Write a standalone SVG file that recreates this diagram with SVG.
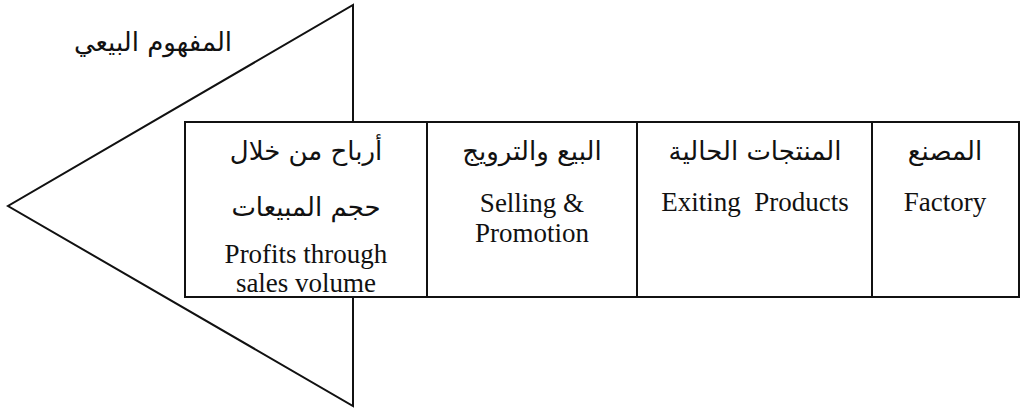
<svg xmlns="http://www.w3.org/2000/svg" width="1021" height="409" viewBox="0 0 1021 409">
<style>
.ln{fill:none;stroke:#111;stroke-width:2;stroke-linejoin:miter}
.cell{fill:#fff;stroke:#111;stroke-width:2}
.en{font-family:"Liberation Serif","Times New Roman",serif;font-size:27px;fill:#111;text-anchor:middle}
.ar{font-family:"DejaVu Sans","Liberation Serif",sans-serif;font-size:26px;fill:#111;text-anchor:middle}
</style>
<rect width="1021" height="409" fill="#fff"/>
<g id="arrow">
<path class="ln" d="M353,122 V5 L8,206 L353,406 V297"/>
</g>
<text class="ar" x="153" y="51" direction="rtl" font-size="24">المفهوم البيعي</text>
<g id="cell-profits">
<rect class="cell" x="185" y="122" width="242" height="175"/>
<text class="ar" x="306" y="160" direction="rtl">أرباح من خلال</text>
<text class="ar" x="306" y="216" direction="rtl">حجم المبيعات</text>
<text class="en" x="306" y="263">Profits through</text>
<text class="en" x="306" y="292">sales volume</text>
</g>
<g id="cell-selling">
<rect class="cell" x="427" y="122" width="210" height="175"/>
<text class="ar" x="532" y="160" direction="rtl">البيع والترويج</text>
<text class="en" x="532" y="212">Selling &amp;</text>
<text class="en" x="532" y="242">Promotion</text>
</g>
<g id="cell-products">
<rect class="cell" x="637" y="122" width="235" height="175"/>
<text class="ar" x="755" y="160" direction="rtl">المنتجات الحالية</text>
<text class="en" x="755" y="211" xml:space="preserve">Exiting  Products</text>
</g>
<g id="cell-factory">
<rect class="cell" x="872" y="122" width="147" height="175"/>
<text class="ar" x="945" y="160" direction="rtl">المصنع</text>
<text class="en" x="945" y="211">Factory</text>
</g>
<g id="connectors"></g>
</svg>
